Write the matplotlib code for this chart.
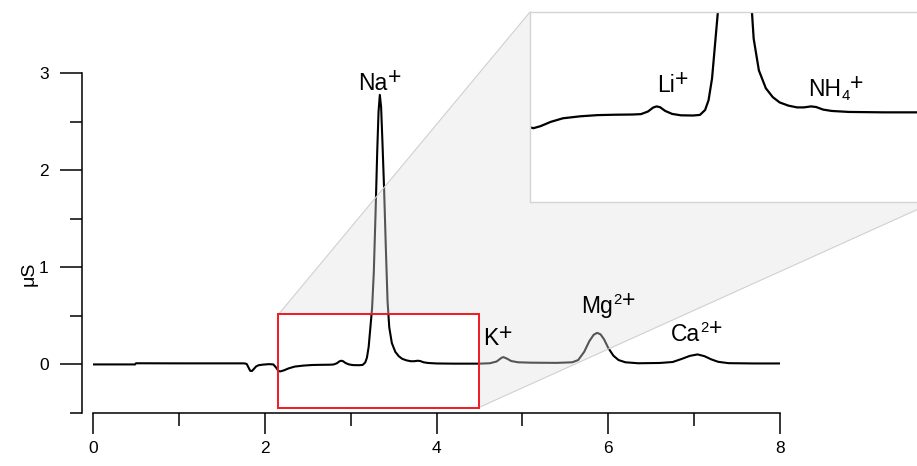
import numpy as np
import matplotlib.pyplot as plt
from matplotlib.patches import Rectangle, Polygon
from matplotlib.lines import Line2D
from matplotlib.transforms import offset_copy

plt.rcParams['font.family'] = ['Liberation Sans', 'DejaVu Sans']

# chromatogram trace (time in min, signal in uS)
time = [0.00, 0.49, 0.50, 1.00, 1.50, 1.76, 1.79, 1.81, 1.83, 1.85, 1.87, 1.90,
        1.93, 1.98, 2.05, 2.10, 2.13, 2.16, 2.18, 2.22, 2.28, 2.35, 2.45, 2.55,
        2.65, 2.75, 2.80, 2.84, 2.87, 2.89, 2.91, 2.94, 2.98, 3.03, 3.10, 3.14,
        3.17, 3.19, 3.21, 3.23, 3.25, 3.27, 3.29, 3.31, 3.325, 3.34, 3.355, 3.37,
        3.39, 3.41, 3.43, 3.45, 3.48, 3.52, 3.56, 3.60, 3.65, 3.70, 3.74, 3.78,
        3.81, 3.85, 3.90, 4.00, 4.20, 4.50, 4.62, 4.70, 4.76, 4.78, 4.82, 4.87,
        4.95, 5.10, 5.40, 5.58, 5.65, 5.72, 5.78, 5.83, 5.87, 5.91, 5.95, 6.00,
        6.06, 6.12, 6.20, 6.35, 6.60, 6.75, 6.85, 6.95, 7.04, 7.12, 7.20, 7.28,
        7.40, 7.70, 8.00]
signal = [0.000, 0.000, 0.012, 0.011, 0.011, 0.011, 0.005, -0.030, -0.065, -0.068, -0.050, -0.020,
          -0.008, -0.002, 0.003, 0.000, -0.030, -0.068, -0.072, -0.062, -0.040, -0.022, -0.012, -0.006,
          -0.004, -0.003, -0.001, 0.012, 0.032, 0.038, 0.034, 0.015, 0.000, -0.007, -0.008, -0.005,
          0.020, 0.070, 0.180, 0.380, 0.580, 0.950, 1.550, 2.200, 2.600, 2.775, 2.650, 2.300,
          1.800, 1.200, 0.650, 0.380, 0.220, 0.130, 0.085, 0.058, 0.042, 0.033, 0.033, 0.038,
          0.035, 0.022, 0.015, 0.010, 0.008, 0.008, 0.012, 0.030, 0.070, 0.075, 0.060, 0.035,
          0.022, 0.018, 0.016, 0.022, 0.045, 0.130, 0.240, 0.305, 0.325, 0.310, 0.260, 0.170,
          0.090, 0.045, 0.022, 0.012, 0.015, 0.025, 0.055, 0.088, 0.103, 0.085, 0.052, 0.027,
          0.013, 0.010, 0.010]

# ion labels: (base, subscript, superscript)
main_ions = [('Na', '', '+'), ('K', '', '+'), ('Mg', '', '2+'), ('Ca', '', '2+')]
main_ion_pos = [(3.34, 2.826), (4.71, 0.20), (6.00, 0.53), (7.03, 0.245)]
inset_ions = [('Li', '', '+'), ('NH', '4', '+')]
inset_ion_pos = [(2.985, 0.111), (3.925, 0.091)]

# zoom window
zoom_x = (2.16, 4.49)
zoom_y = (-0.445, 0.515)

W, H = 917, 466
fig = plt.figure(figsize=(W / 100, H / 100), dpi=100)
renderer = fig.canvas.get_renderer()
ax = fig.add_axes([93 / W, 53 / H, 687 / W, 340 / H])
ax.plot(time, signal, color='black', lw=1.5, zorder=2)
ax.set_xlim(0, 8)
ax.set_ylim(-0.5, 3)
for s in ['top', 'right']:
    ax.spines[s].set_visible(False)
ax.spines['left'].set_position(('outward', 8))
for s in ['left', 'bottom']:
    ax.spines[s].set_linewidth(1.1)
ax.set_xticks([0, 2, 4, 6, 8])
ax.set_xticks([1, 3, 5, 7], minor=True)
ax.set_yticks([0, 1, 2, 3])
ax.set_yticks([-0.5, 0.5, 1.5, 2.5], minor=True)
ax.tick_params(axis='y', which='major', length=16, width=1.1, pad=8, labelsize=12.5)
ax.tick_params(axis='y', which='minor', length=9, width=1.1)
ax.tick_params(axis='x', which='major', length=15, width=1.1, pad=5, labelsize=12.5)
ax.tick_params(axis='x', which='minor', length=9, width=1.1)
fig.text(29 / W, 1 - 274 / H, 'μS', rotation=90, ha='center', va='center', fontsize=14)

ax.add_patch(Rectangle((zoom_x[0], zoom_y[0]), zoom_x[1] - zoom_x[0], zoom_y[1] - zoom_y[0],
                       fill=False, edgecolor='#f01a20', lw=1.4, zorder=3))


def ion_label(axis, x, y, base, sub, sup, size=16.5):
    # lay the pieces out left to right, then shift so the whole label is centred on x
    parts = [(base, size, 0)]
    if sub:
        parts.append((sub, size * 0.65, -4))
    if sup:
        if len(sup) > 1:
            parts.append((sup[:-1], size * 0.65, 9))
        parts.append((sup[-1], size, 5.5))
    texts, dx = [], 0.0
    for txt, fs, rise in parts:
        t = axis.text(x, y, txt, fontsize=fs, ha='left', va='baseline', zorder=5,
                      transform=offset_copy(axis.transData, fig, x=dx, y=rise, units='dots'))
        w = t.get_window_extent(renderer).width
        texts.append((t, dx, rise))
        dx += w + 0.5
    for t, off, rise in texts:
        t.set_transform(offset_copy(axis.transData, fig, x=off - dx / 2, y=rise, units='dots'))


for (base, sub, sup), (x, y) in zip(main_ions, main_ion_pos):
    ion_label(ax, x, y, base, sub, sup)

# inset, runs off the right edge like in the original
ins = fig.add_axes([530 / W, (H - 202) / H, 404 / W, 190 / H], zorder=3)
ins.plot(time, signal, color='black', lw=1.6)
ins.set_xlim(*zoom_x)
ins.set_ylim(*zoom_y)
ins.set_xticks([])
ins.set_yticks([])
for s in ins.spines.values():
    s.set_color('#d4d4d4')
    s.set_linewidth(1.0)
for (base, sub, sup), (x, y) in zip(inset_ions, inset_ion_pos):
    ion_label(ins, x, y, base, sub, sup)

# grey connector between zoom box and inset, laid over the trace but under the labels
to_fig = fig.transFigure.inverted()
r_tl = to_fig.transform(ax.transData.transform((zoom_x[0], zoom_y[1])))
r_tr = to_fig.transform(ax.transData.transform((zoom_x[1], zoom_y[1])))
r_br = to_fig.transform(ax.transData.transform((zoom_x[1], zoom_y[0])))
i_tl = to_fig.transform(ins.transAxes.transform((0, 1)))
i_tr = to_fig.transform(ins.transAxes.transform((1, 1)))
i_br = to_fig.transform(ins.transAxes.transform((1, 0)))
shade = Polygon([r_tl, i_tl, i_tr, i_br, r_br, r_tr], closed=True, transform=fig.transFigure,
                facecolor='#e2e2e2', edgecolor='none', alpha=0.38, zorder=2.5, clip_on=False)
ax.add_artist(shade)
for a, b in [(r_tl, i_tl), (r_br, i_br)]:
    ax.add_artist(Line2D([a[0], b[0]], [a[1], b[1]], transform=fig.transFigure,
                         color='#d0d0d0', lw=0.8, zorder=2.6, clip_on=False))

fig.savefig('out.png', dpi=100)
